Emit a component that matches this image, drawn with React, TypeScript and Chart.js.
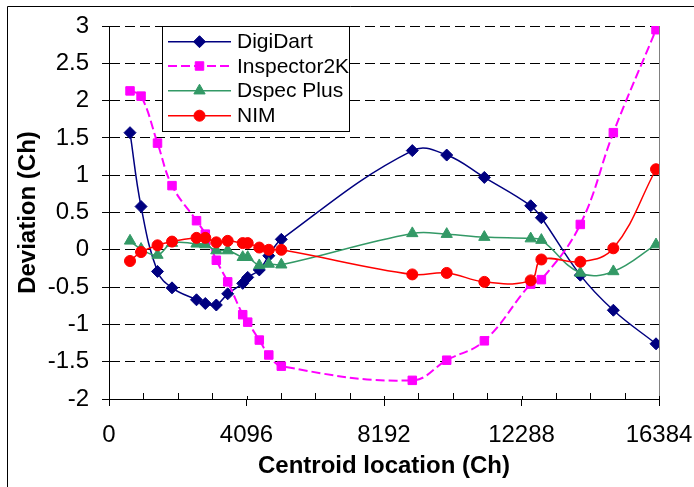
import React, { useEffect, useRef } from 'react';
import { Chart, registerables } from 'chart.js';
import { drawPoint } from 'chart.js/helpers';

Chart.register(...registerables);

// Centroid locations (Ch) shared by all series
const centroids = [626, 955, 1445, 1877, 2607, 2869, 3197, 3536, 3983, 4132, 4477, 4760, 5133, 9035, 10060, 11181, 12562, 12880, 14040, 15024, 16295];

// Deviations (Ch)
const digiDart = [1.57, 0.58, -0.29, -0.51, -0.67, -0.72, -0.74, -0.59, -0.45, -0.37, -0.27, -0.08, 0.14, 1.33, 1.27, 0.97, 0.59, 0.43, -0.34, -0.81, -1.26];
const inspector2K = [2.13, 2.06, 1.43, 0.86, 0.39, 0.21, -0.14, -0.43, -0.87, -0.97, -1.21, -1.41, -1.56, -1.75, -1.48, -1.22, -0.46, -0.40, 0.34, 1.57, 2.95];
const dspecPlus = [0.12, 0.01, -0.07, 0.09, 0.08, 0.07, -0.01, -0.01, -0.10, -0.10, -0.21, -0.19, -0.20, 0.22, 0.21, 0.17, 0.15, 0.13, -0.31, -0.29, 0.07];
const nim = [-0.15, -0.03, 0.06, 0.11, 0.16, 0.16, 0.10, 0.12, 0.09, 0.09, 0.03, 0.00, 0.00, -0.33, -0.31, -0.43, -0.41, -0.13, -0.16, 0.02, 1.08];

const seriesNames = ['DigiDart', 'Inspector2K', 'Dspec Plus', 'NIM'];

const xTicks = [0, 4096, 8192, 12288, 16384];
const xMinorStep = 1024;
const yTicks = [3, 2.5, 2, 1.5, 1, 0.5, 0, -0.5, -1, -1.5, -2];

const FONT = "'Liberation Sans', Arial, Helvetica, sans-serif";

const toPoints = (ys: number[]) => centroids.map((x, i) => ({ x, y: ys[i] }));

const decorPlugin = {
  id: 'decor',
  beforeDatasetsDraw(chart: any) {
    const { ctx, chartArea: a, scales } = chart;
    const x = scales.x;
    ctx.save();
    ctx.setLineDash([]);
    ctx.lineWidth = 1;
    // right border of plot area
    ctx.strokeStyle = '#808080';
    ctx.beginPath();
    ctx.moveTo(Math.round(a.right) + 0.5, a.top);
    ctx.lineTo(Math.round(a.right) + 0.5, a.bottom);
    ctx.stroke();
    // inside tick marks on the x axis
    ctx.strokeStyle = '#000';
    const maxV = xTicks[xTicks.length - 1];
    for (let v = 0; v <= maxV; v += xMinorStep) {
      const px = Math.round(x.getPixelForValue(v)) + 0.5;
      const major = xTicks.includes(v);
      ctx.beginPath();
      ctx.moveTo(px, a.bottom);
      ctx.lineTo(px, a.bottom - (major ? 3 : 6));
      ctx.stroke();
    }
    ctx.restore();
  },
  afterDraw(chart: any) {
    const { ctx } = chart;
    ctx.save();
    ctx.setLineDash([]);
    // outer frame (left and top edges visible)
    ctx.strokeStyle = '#000';
    ctx.lineWidth = 1;
    ctx.beginPath();
    ctx.moveTo(7.5, 487);
    ctx.lineTo(7.5, 6.5);
    ctx.lineTo(694, 6.5);
    ctx.stroke();

    // legend
    const lx = 162, ly = 26, lw = 187, lh = 105;
    ctx.fillStyle = '#fff';
    ctx.fillRect(lx, ly, lw, lh);
    ctx.strokeStyle = '#000';
    ctx.strokeRect(lx + 0.5, ly + 0.5, lw, lh);
    const rowY = [41.7, 66, 90.7, 115.7];
    chart.data.datasets.forEach((ds: any, i: number) => {
      const y = rowY[i];
      ctx.save();
      ctx.strokeStyle = ds.borderColor;
      ctx.lineWidth = ds.borderWidth;
      ctx.setLineDash(ds.borderDash || []);
      ctx.beginPath();
      ctx.moveTo(168, y);
      ctx.lineTo(231, y);
      ctx.stroke();
      ctx.setLineDash([]);
      ctx.fillStyle = ds.pointBackgroundColor;
      ctx.strokeStyle = ds.pointBorderColor;
      ctx.lineWidth = ds.pointBorderWidth;
      drawPoint(ctx, { pointStyle: ds.pointStyle, radius: ds.pointRadius, rotation: 0, borderWidth: ds.pointBorderWidth }, 199.5, y);
      ctx.restore();
      ctx.fillStyle = '#000';
      ctx.font = `21px ${FONT}`;
      ctx.textAlign = 'left';
      ctx.textBaseline = 'middle';
      ctx.fillText(seriesNames[i], 237, y + 1);
    });
    ctx.restore();
  },
};

export default function App() {
  const ref = useRef<HTMLCanvasElement | null>(null);
  useEffect(() => {
    if (!ref.current) return;
    Chart.defaults.font.family = FONT;
    Chart.defaults.color = '#000';
    const mk = (label: string, data: number[], color: string, style: string, radius: number, width: number, dash: number[], order: number) => ({
      label,
      data: toPoints(data),
      borderColor: color,
      backgroundColor: color,
      pointBackgroundColor: color,
      pointBorderColor: color,
      pointBorderWidth: 1,
      pointStyle: style,
      pointRadius: radius,
      borderWidth: width,
      borderDash: dash,
      tension: 0.4,
      order,
    });
    const chart = new Chart(ref.current, {
      type: 'line',
      data: {
        datasets: [
          mk(seriesNames[0], digiDart, '#000080', 'rectRot', 6, 1.5, [], 4),
          mk(seriesNames[1], inspector2K, '#FF00FF', 'rect', 6, 2, [9, 4], 3),
          mk(seriesNames[2], dspecPlus, '#339966', 'triangle', 6.5, 1.5, [], 2),
          mk(seriesNames[3], nim, '#FF0000', 'circle', 5.5, 1.5, [], 1),
        ] as any,
      },
      options: {
        responsive: false,
        animation: false,
        devicePixelRatio: 1,
        layout: { autoPadding: false, padding: { top: 26, right: 35, left: 0, bottom: 0 } },
        plugins: { legend: { display: false }, tooltip: { enabled: false } },
        scales: {
          x: {
            type: 'linear',
            min: xTicks[0],
            max: xTicks[xTicks.length - 1],
            afterBuildTicks: (s: any) => { s.ticks = xTicks.map((v) => ({ value: v })); },
            afterFit: (s: any) => { s.height = 88; s.paddingLeft = 0; s.paddingRight = 0; },
            ticks: { font: { size: 24 }, padding: 15, maxRotation: 0, callback: (v: any) => String(v) },
            grid: { display: true, drawOnChartArea: false, drawTicks: true, tickLength: 7, color: '#000', tickColor: '#000', lineWidth: 1 },
            border: { display: true, color: '#000', width: 1 },
            title: { display: true, text: 'Centroid location (Ch)', font: { size: 24, weight: 'bold' }, padding: { top: 0, bottom: 6 } },
          },
          y: {
            type: 'linear',
            min: yTicks[yTicks.length - 1],
            max: yTicks[0],
            afterBuildTicks: (s: any) => { s.ticks = yTicks.slice().reverse().map((v) => ({ value: v })); },
            afterFit: (s: any) => { s.width = 109; s.paddingTop = 0; s.paddingBottom = 0; },
            ticks: { font: { size: 24 }, padding: 13, callback: (v: any) => String(v) },
            grid: { display: true, drawTicks: true, tickLength: 7, color: '#000', tickColor: '#000', tickBorderDash: [], lineWidth: 1 },
            border: { display: true, color: '#000', width: 1, dash: [10, 5] },
            title: { display: true, text: 'Deviation (Ch)', font: { size: 24, weight: 'bold' }, padding: { top: 14, bottom: 0 } },
          },
        },
      } as any,
      plugins: [decorPlugin],
    });
    return () => chart.destroy();
  }, []);
  return (
    <div style={{ position: 'absolute', left: 0, top: 0, width: 694, height: 487, background: '#fff' }}>
      <canvas ref={ref} width={694} height={487} style={{ display: 'block' }} />
    </div>
  );
}
